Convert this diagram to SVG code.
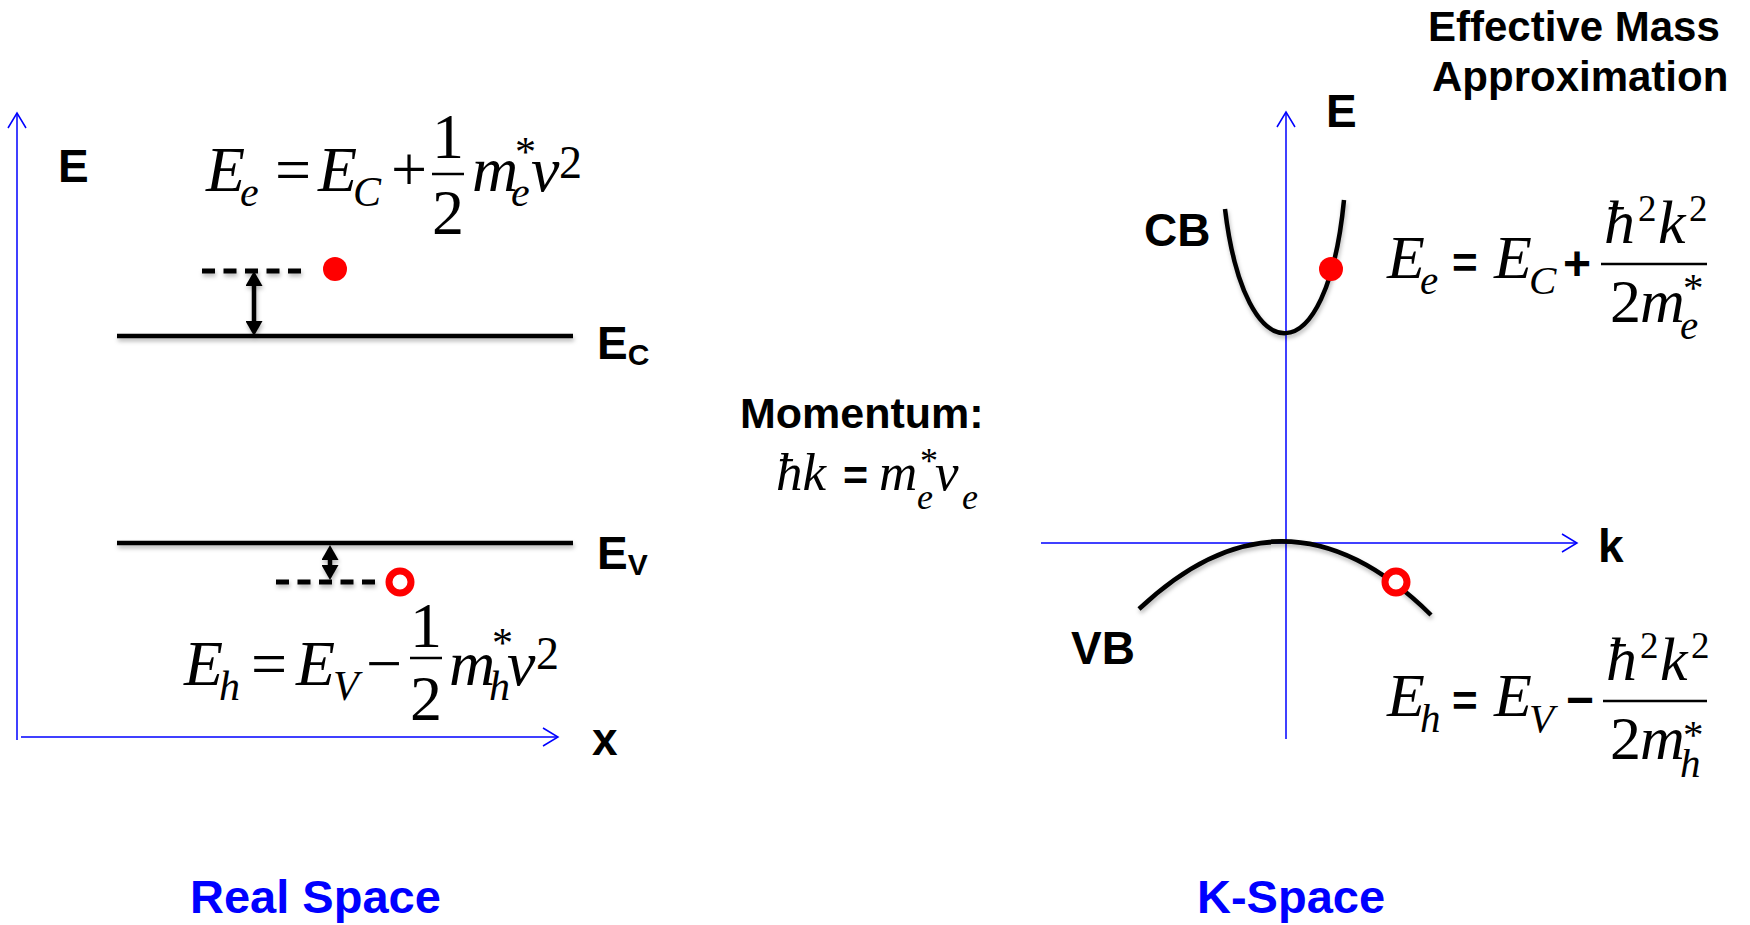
<svg xmlns="http://www.w3.org/2000/svg" width="1750" height="925" viewBox="0 0 1750 925">
<style>
.lbl{font-family:"Liberation Sans",Arial,Helvetica,sans-serif;font-weight:bold;fill:#000}
.blue{fill:#0000FF}
.mi{font-family:"Liberation Serif","Times New Roman",serif;font-style:italic;fill:#000}
.mr{font-family:"Liberation Serif","Times New Roman",serif;font-style:normal}
.ms{font-family:"Liberation Sans",Arial,sans-serif;font-style:normal;font-weight:bold}
.axis{stroke:#0000FF;stroke-width:1.5;fill:none}
.band{stroke:#000;stroke-width:4.5;fill:none}
.dash{stroke:#000;stroke-width:5;stroke-dasharray:13 8.5;fill:none}
.dbl{stroke:#000;stroke-width:4.5;fill:none}
.bar{stroke:#000;stroke-width:2.5}
</style>
<defs>
<marker id="open" viewBox="0 0 18 20" refX="16" refY="10" markerWidth="18" markerHeight="20" markerUnits="userSpaceOnUse" orient="auto">
<path d="M1,1 L16,10 L1,19" fill="none" stroke="#0000FF" stroke-width="1.5"/>
</marker>
<marker id="tri" viewBox="0 0 16 17" refX="3" refY="8.5" markerWidth="16" markerHeight="17" markerUnits="userSpaceOnUse" orient="auto-start-reverse">
<path d="M0,0 L15,8.5 L0,17 z" fill="#000"/>
</marker>
<filter id="sh" filterUnits="userSpaceOnUse" x="0" y="0" width="1750" height="925">
<feDropShadow dx="1" dy="3" stdDeviation="2" flood-color="#000" flood-opacity="0.28"/>
</filter>
</defs>
<rect width="1750" height="925" fill="#fff"/>

<g id="connectors">
<line class="axis" x1="17" y1="740" x2="17" y2="113" marker-end="url(#open)"/>
<line class="axis" x1="21" y1="737" x2="558" y2="737" marker-end="url(#open)"/>
<line class="axis" x1="1286" y1="739" x2="1286" y2="112" marker-end="url(#open)"/>
<line class="axis" x1="1041" y1="543" x2="1577" y2="543" marker-end="url(#open)"/>
<line class="dbl" x1="254" y1="283" x2="254" y2="324" marker-start="url(#tri)" marker-end="url(#tri)" filter="url(#sh)"/>
<line class="dbl" x1="330" y1="557" x2="330" y2="568" marker-start="url(#tri)" marker-end="url(#tri)" filter="url(#sh)"/>
</g>

<g id="real-space-axis-labels">
<text class="lbl" x="58" y="182" font-size="46">E</text>
<text class="lbl" x="592" y="755" font-size="46">x</text>
</g>
<g id="ec-level">
<line class="band" x1="117" y1="336" x2="573" y2="336" filter="url(#sh)"/>
<text class="lbl" x="597" y="359" font-size="46">E<tspan font-size="30" dy="6">C</tspan></text>
</g>
<g id="ev-level">
<line class="band" x1="117" y1="543" x2="573" y2="543" filter="url(#sh)"/>
<text class="lbl" x="597" y="569" font-size="46">E<tspan font-size="30" dy="6">V</tspan></text>
</g>
<g id="electron-real">
<line class="dash" x1="202" y1="271" x2="304" y2="271" filter="url(#sh)"/>
<circle cx="335" cy="269" r="12" fill="#FF0000"/>
</g>
<g id="hole-real">
<line class="dash" x1="276" y1="582" x2="377" y2="582" filter="url(#sh)"/>
<circle cx="400" cy="582" r="11" fill="#fff" stroke="#FF0000" stroke-width="7"/>
</g>
<g id="eq-electron-real">
<line class="bar" x1="432" y1="174" x2="464" y2="174"/>
<text class="mi" font-size="64"><tspan x="206" y="191">E</tspan><tspan x="240" y="206" font-size="42">e</tspan><tspan class="mr" x="275" y="191">=</tspan><tspan x="318" y="191">E</tspan><tspan x="353" y="206" font-size="42">C</tspan><tspan class="mr" x="391" y="191">+</tspan><tspan class="mr" x="448" y="158" text-anchor="middle">1</tspan><tspan class="mr" x="448" y="234" text-anchor="middle">2</tspan><tspan x="472" y="191">m</tspan><tspan class="mr" x="515" y="166" font-size="42">*</tspan><tspan x="511" y="206" font-size="42">e</tspan><tspan x="531" y="191">v</tspan><tspan class="mr" x="559" y="178" font-size="46">2</tspan></text>
</g>
<g id="eq-hole-real">
<line class="bar" x1="410" y1="658" x2="442" y2="658"/>
<text class="mi" font-size="64"><tspan x="184" y="685">E</tspan><tspan x="219" y="700" font-size="42">h</tspan><tspan class="mr" x="251" y="685">=</tspan><tspan x="296" y="685">E</tspan><tspan x="333" y="700" font-size="42">V</tspan><tspan class="mr" x="366" y="685">−</tspan><tspan class="mr" x="426" y="647" text-anchor="middle">1</tspan><tspan class="mr" x="426" y="720" text-anchor="middle">2</tspan><tspan x="449" y="685">m</tspan><tspan class="mr" x="492" y="657" font-size="42">*</tspan><tspan x="489" y="700" font-size="42">h</tspan><tspan x="507" y="685">v</tspan><tspan class="mr" x="536" y="669" font-size="46">2</tspan></text>
</g>
<g id="real-space-title">
<text class="lbl blue" x="190" y="913" font-size="47">Real Space</text>
</g>

<g id="momentum">
<text class="lbl" x="740" y="428" font-size="43">Momentum:</text>
<text class="mi" font-size="53"><tspan x="776" y="490">ħk</tspan><tspan class="ms" x="843" y="490" font-size="43">=</tspan><tspan x="879" y="490">m</tspan><tspan class="mr" x="920" y="473" font-size="36">*</tspan><tspan x="917" y="509" font-size="36">e</tspan><tspan x="935" y="490">v</tspan><tspan x="962" y="509" font-size="36">e</tspan></text>
</g>

<g id="title">
<text class="lbl" x="1428" y="41" font-size="42">Effective Mass</text>
<text class="lbl" x="1432" y="91" font-size="42">Approximation</text>
</g>
<g id="k-space-axis-labels">
<text class="lbl" x="1326" y="127" font-size="46">E</text>
<text class="lbl" x="1598" y="562" font-size="46">k</text>
</g>
<g id="conduction-band">
<path class="band" d="M1225,209 C1245,376 1327,376 1344,200" filter="url(#sh)"/>
<circle cx="1331" cy="269" r="12" fill="#FF0000"/>
<text class="lbl" x="1144" y="246" font-size="46">CB</text>
</g>
<g id="valence-band">
<path class="band" d="M1139,609 Q1285,471 1431,615" filter="url(#sh)"/>
<circle cx="1396" cy="582" r="11" fill="#fff" stroke="#FF0000" stroke-width="7"/>
<text class="lbl" x="1071" y="664" font-size="46">VB</text>
</g>
<g id="eq-electron-k">
<line class="bar" x1="1601" y1="264" x2="1707" y2="264"/>
<text class="mi" font-size="62"><tspan x="1387" y="278">E</tspan><tspan x="1420" y="294" font-size="41">e</tspan><tspan class="ms" x="1452" y="278" font-size="44">=</tspan><tspan x="1494" y="278">E</tspan><tspan x="1529" y="294" font-size="41">C</tspan><tspan class="ms" x="1563" y="280" font-size="48">+</tspan><tspan x="1604" y="243">ħ</tspan><tspan class="mr" x="1638" y="221" font-size="37">2</tspan><tspan x="1658" y="243">k</tspan><tspan class="mr" x="1689" y="221" font-size="37">2</tspan><tspan class="mr" x="1610" y="322">2</tspan><tspan x="1640" y="322">m</tspan><tspan class="mr" x="1683" y="301" font-size="41">*</tspan><tspan x="1680" y="339" font-size="41">e</tspan></text>
</g>
<g id="eq-hole-k">
<line class="bar" x1="1603" y1="701" x2="1707" y2="701"/>
<text class="mi" font-size="62"><tspan x="1387" y="716">E</tspan><tspan x="1420" y="732" font-size="41">h</tspan><tspan class="ms" x="1452" y="716" font-size="44">=</tspan><tspan x="1494" y="716">E</tspan><tspan x="1529" y="732" font-size="41">V</tspan><tspan class="ms" x="1566" y="716" font-size="48">−</tspan><tspan x="1606" y="680">ħ</tspan><tspan class="mr" x="1640" y="658" font-size="37">2</tspan><tspan x="1660" y="680">k</tspan><tspan class="mr" x="1691" y="658" font-size="37">2</tspan><tspan class="mr" x="1610" y="759">2</tspan><tspan x="1640" y="759">m</tspan><tspan class="mr" x="1683" y="748" font-size="41">*</tspan><tspan x="1680" y="777" font-size="41">h</tspan></text>
</g>
<g id="k-space-title">
<text class="lbl blue" x="1197" y="913" font-size="47">K-Space</text>
</g>
</svg>
